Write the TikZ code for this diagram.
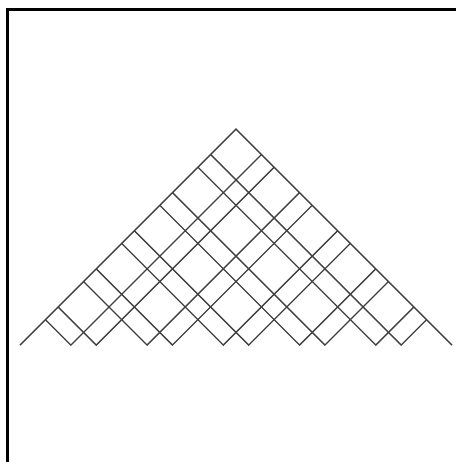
\documentclass[tikz,border=0pt]{standalone}
\usepackage{xcolor,tikz}
\definecolor{ink}{HTML}{404040}
\tikzset{frame/.style={draw=black,line width=3pt},
  ray/.style={draw=ink,line width=1.3pt,line join=miter}}

\begin{document}
\begin{tikzpicture}[x=25.41pt,y=25.41pt]
\useasboundingbox (-0.787,-4.60) rectangle (17.12,13.58);
% frame, cut off at the right and at the bottom
\draw[frame] (-0.492,-4.70) -- (-0.492,13.20) -- (17.3,13.20);
% outline of the triangle
\draw[ray] (0,0) -- (8.5,8.5) -- (17,0);
% reflected rays from the base points
\foreach \b in {2,3,5,6,8,9,11,12,14,15}
  \draw[ray] ({\b/2},{\b/2}) -- (\b,0) -- ({(\b+17)/2},{(17-\b)/2});
\end{tikzpicture}
\end{document}
